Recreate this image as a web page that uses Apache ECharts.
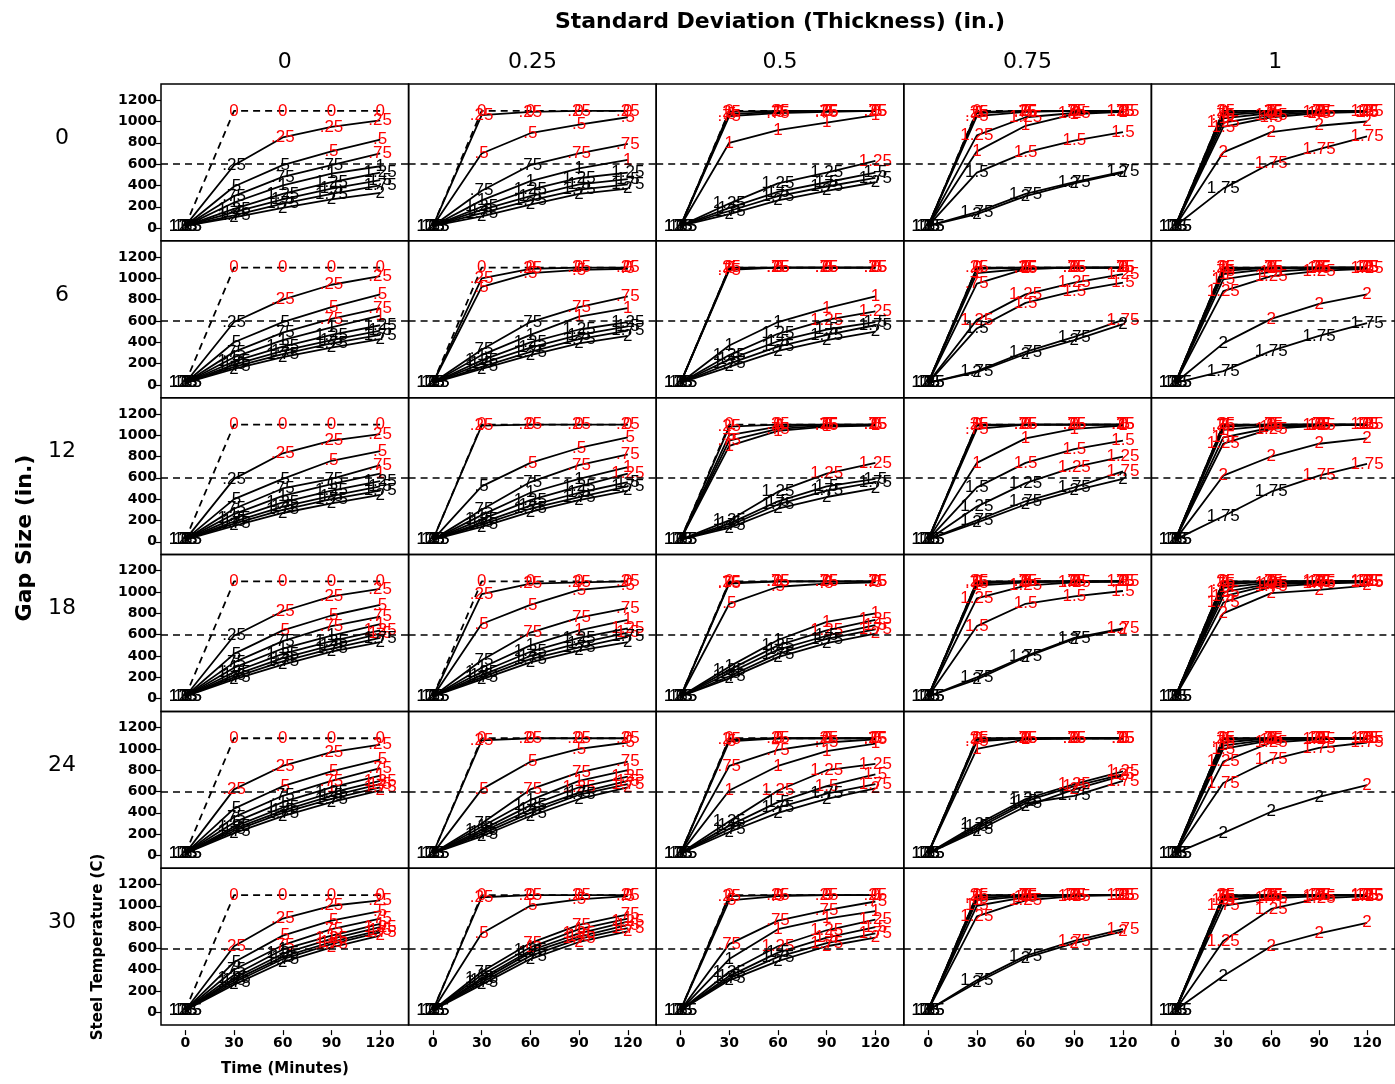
<!DOCTYPE html>
<html><head><meta charset="utf-8">
<script src="https://cdn.jsdelivr.net/npm/echarts@6/dist/echarts.min.js"></script>
<style>html,body{margin:0;padding:0;background:#fff}#c{width:1395px;height:1084px}</style>
</head><body><div id="c"></div>
<script>
// ---------- DATA ----------
const times = [0, 30, 60, 90, 120];
const thicknessLabels = ['0', '.25', '.5', '.75', '1', '1.25', '1.5', '1.75', '2'];
const sdLabels = ['0', '0.25', '0.5', '0.75', '1'];
const gapLabels = ['0', '6', '12', '18', '24', '30'];
const yTicks = [0, 200, 400, 600, 800, 1000, 1200];
const xTicks = [0, 30, 60, 90, 120];
const criticalTemp = 600;

// Each panel: 9 series (thickness 0..2), values at t = 0,30,60,90,120
const gap0_sd0 = [[20,1100,1100,1100,1100],[20,590,850,950,1010],[20,390,590,720,830],[20,300,480,590,700],[20,240,400,510,580],[20,180,320,430,520],[20,150,270,370,450],[20,120,230,320,400],[20,100,190,270,330]];
const gap0_sd25 = [[20,1100,1100,1100,1100],[20,1060,1090,1100,1100],[20,700,890,970,1040],[20,350,590,700,790],[20,260,440,560,640],[20,200,360,470,520],[20,170,300,410,460],[20,140,260,360,410],[20,110,220,320,370]];
const gap0_sd50 = [[20,1100,1100,1100,1100],[20,1090,1100,1100,1100],[20,1070,1090,1100,1100],[20,1050,1080,1090,1100],[20,800,920,990,1060],[20,230,420,520,630],[20,190,340,430,520],[20,160,300,390,470],[20,130,260,350,430]];
const gap0_sd75 = [[20,1100,1100,1100,1100],[20,1090,1100,1100,1100],[20,1080,1100,1100,1100],[20,1050,1090,1100,1100],[20,720,960,1070,1090],[20,870,1040,1080,1100],[20,520,710,820,900],[20,150,320,430,530],[20,130,300,420,520]];
const gap0_sd100 = [[20,1100,1100,1100,1100],[20,1100,1100,1100,1100],[20,1080,1100,1100,1100],[20,1060,1090,1100,1100],[20,1030,1080,1100,1100],[20,990,1060,1090,1100],[20,950,1040,1080,1090],[20,370,610,740,860],[20,710,900,960,1000]];

const gap6_sd0 = [[20,1100,1100,1100,1100],[20,590,800,940,1020],[20,400,590,730,850],[20,310,490,620,720],[20,260,420,540,650],[20,220,360,470,560],[20,190,320,420,510],[20,170,290,390,470],[20,150,260,350,430]];
const gap6_sd25 = [[20,1100,1100,1100,1100],[20,1000,1090,1100,1100],[20,920,1050,1080,1090],[20,330,590,730,830],[20,280,470,640,720],[20,230,400,520,590],[20,200,350,470,550],[20,170,310,430,510],[20,150,280,390,460]];
const gap6_sd50 = [[20,1100,1100,1100,1100],[20,1100,1100,1100,1100],[20,1090,1100,1100,1100],[20,1080,1100,1100,1100],[20,370,590,720,830],[20,280,480,610,690],[20,240,410,520,590],[20,200,360,470,560],[20,170,320,420,500]];
const gap6_sd75 = [[20,1100,1100,1100,1100],[20,1100,1100,1100,1100],[20,1090,1100,1100,1100],[20,950,1090,1100,1100],[20,1050,1090,1100,1100],[20,610,850,960,1040],[20,530,770,880,960],[20,130,310,450,610],[20,120,290,420,570]];
const gap6_sd100 = [[20,1100,1100,1100,1100],[20,1100,1100,1100,1100],[20,1090,1100,1100,1100],[20,1070,1100,1100,1100],[20,1040,1090,1100,1100],[20,880,1020,1070,1090],[20,990,1060,1090,1100],[20,130,320,460,580],[20,390,620,760,850]];

const gap12_sd0 = [[20,1100,1100,1100,1100],[20,590,830,950,1010],[20,400,590,760,850],[20,310,500,590,720],[20,260,430,540,640],[20,220,370,480,570],[20,190,330,430,520],[20,170,300,400,480],[20,150,270,360,440]];
const gap12_sd25 = [[20,1100,1100,1100,1100],[20,1090,1100,1100,1100],[20,520,740,880,980],[20,300,560,720,820],[20,250,460,590,700],[20,210,390,520,640],[20,180,340,460,560],[20,160,310,420,520],[20,140,280,390,480]];
const gap12_sd50 = [[20,1100,1100,1100,1100],[20,1080,1100,1100,1100],[20,1000,1080,1100,1100],[20,950,1060,1090,1100],[20,900,1040,1080,1090],[20,200,470,640,740],[20,170,380,520,590],[20,150,350,480,560],[20,130,310,420,500]];
const gap12_sd75 = [[20,1100,1100,1100,1100],[20,1100,1100,1100,1100],[20,1090,1100,1100,1100],[20,1060,1100,1100,1100],[20,740,970,1060,1090],[20,330,550,700,800],[20,510,740,870,950],[20,200,380,510,660],[20,180,350,480,590]];
const gap12_sd100 = [[20,1100,1100,1100,1100],[20,1100,1100,1100,1100],[20,1090,1100,1100,1100],[20,1080,1100,1100,1100],[20,1050,1090,1100,1100],[20,920,1060,1090,1100],[20,980,1070,1090,1100],[20,240,470,620,730],[20,620,800,920,970]];

const gap18_sd0 = [[20,1100,1100,1100,1100],[20,590,820,960,1030],[20,420,640,780,880],[20,340,540,680,770],[20,290,470,590,700],[20,250,420,540,640],[20,220,380,500,610],[20,200,350,470,570],[20,180,320,440,530]];
const gap18_sd25 = [[20,1100,1100,1100,1100],[20,980,1080,1090,1100],[20,700,880,1020,1060],[20,360,620,760,850],[20,290,500,640,740],[20,250,440,570,660],[20,220,400,520,620],[20,200,370,480,580],[20,180,340,450,530]];
const gap18_sd50 = [[20,1100,1100,1100,1100],[20,1090,1100,1100,1100],[20,890,1050,1080,1090],[20,1080,1100,1100,1100],[20,300,550,720,800],[20,270,500,640,740],[20,240,460,590,690],[20,210,420,560,650],[20,190,390,520,610]];
const gap18_sd75 = [[20,1100,1100,1100,1100],[20,1100,1100,1100,1100],[20,1090,1100,1100,1100],[20,1080,1100,1100,1100],[20,1060,1090,1100,1100],[20,940,1060,1090,1100],[20,680,890,960,1010],[20,200,400,570,660],[20,180,390,560,650]];
const gap18_sd100 = [[20,1100,1100,1100,1100],[20,1100,1100,1100,1100],[20,1090,1100,1100,1100],[20,1070,1100,1100,1100],[20,1040,1090,1100,1100],[20,1000,1080,1100,1100],[20,960,1070,1090,1100],[20,900,1050,1080,1090],[20,800,990,1020,1060]];

const gap24_sd0 = [[20,1100,1100,1100,1100],[20,620,840,970,1040],[20,440,650,790,900],[20,360,560,700,820],[20,310,500,640,750],[20,270,450,590,700],[20,250,420,560,670],[20,230,400,530,640],[20,210,370,500,610]];
const gap24_sd25 = [[20,1100,1100,1100,1100],[20,1080,1100,1100,1100],[20,620,880,1000,1060],[20,300,620,780,880],[20,270,520,700,800],[20,240,470,640,740],[20,220,430,590,700],[20,200,400,570,670],[20,180,370,530,640]];
const gap24_sd50 = [[20,1100,1100,1100,1100],[20,1090,1100,1100,1100],[20,1070,1100,1100,1100],[20,840,990,1060,1090],[20,610,840,980,1050],[20,320,610,800,860],[20,280,500,650,760],[20,250,450,580,670],[20,220,400,530,630]];
const gap24_sd75 = [[20,1100,1100,1100,1100],[20,1100,1100,1100,1100],[20,1090,1100,1100,1100],[20,1070,1100,1100,1100],[20,1000,1090,1100,1100],[20,290,530,670,790],[20,270,510,650,760],[20,250,490,560,700],[20,230,460,620,750]];
const gap24_sd100 = [[20,1100,1100,1100,1100],[20,1100,1100,1100,1100],[20,1090,1100,1100,1100],[20,1060,1100,1100,1100],[20,1030,1090,1100,1100],[20,880,1060,1090,1100],[20,1000,1080,1100,1100],[20,680,900,1010,1060],[20,210,410,550,660]];

const gap30_sd0 = [[20,1100,1100,1100,1100],[20,620,880,1000,1050],[20,470,720,860,950],[20,400,630,780,880],[20,350,590,720,830],[20,320,550,690,800],[20,300,520,660,770],[20,280,500,640,750],[20,260,470,610,720]];
const gap30_sd25 = [[20,1100,1100,1100,1100],[20,1080,1100,1100,1100],[20,740,1000,1060,1090],[20,380,650,820,920],[20,350,610,780,880],[20,320,580,740,850],[20,300,560,710,820],[20,280,530,690,790],[20,260,500,660,760]];
const gap30_sd50 = [[20,1100,1100,1100,1100],[20,1090,1100,1100,1100],[20,1050,1090,1100,1100],[20,640,860,960,1040],[20,500,780,880,950],[20,380,620,770,870],[20,340,560,700,800],[20,320,520,650,740],[20,300,480,620,700]];
const gap30_sd75 = [[20,1100,1100,1100,1100],[20,1100,1100,1100,1100],[20,1090,1100,1100,1100],[20,1070,1100,1100,1100],[20,1050,1090,1100,1100],[20,900,1050,1090,1100],[20,1000,1080,1100,1100],[20,300,530,670,780],[20,280,510,650,760]];
const gap30_sd100 = [[20,1100,1100,1100,1100],[20,1100,1100,1100,1100],[20,1090,1100,1100,1100],[20,1080,1100,1100,1100],[20,1060,1090,1100,1100],[20,670,970,1070,1090],[20,1050,1090,1100,1100],[20,1000,1070,1090,1100],[20,340,620,740,840]];

const panelRows = [
  [gap0_sd0, gap0_sd25, gap0_sd50, gap0_sd75, gap0_sd100],
  [gap6_sd0, gap6_sd25, gap6_sd50, gap6_sd75, gap6_sd100],
  [gap12_sd0, gap12_sd25, gap12_sd50, gap12_sd75, gap12_sd100],
  [gap18_sd0, gap18_sd25, gap18_sd50, gap18_sd75, gap18_sd100],
  [gap24_sd0, gap24_sd25, gap24_sd50, gap24_sd75, gap24_sd100],
  [gap30_sd0, gap30_sd25, gap30_sd50, gap30_sd75, gap30_sd100]
];

// ---------- LAYOUT ----------
const LEFT0 = 161, COLW = 247.6, TOP0 = 84, ROWH = 156.85;
const X_MIN = -15, X_MAX = 137.5, Y_MIN = -120, Y_MAX = 1352;
const TICK_FONT = 'DejaVu Sans';
const HEAD_FONT = 'DejaVu Sans';

const grids = [], xAxes = [], yAxes = [], series = [], graphics = [];
const nRows = panelRows.length, nCols = sdLabels.length;
const plain = v => String(v);

for (let r = 0; r < nRows; r++) {
  for (let c = 0; c < nCols; c++) {
    const k = r * nCols + c;
    grids.push({
      left: LEFT0 + c * COLW, top: TOP0 + r * ROWH, width: COLW, height: ROWH,
      show: true, borderColor: '#000', borderWidth: 1.5, backgroundColor: 'transparent', containLabel: false
    });
    const bottom = r === nRows - 1, first = c === 0;
    xAxes.push({
      gridIndex: k, type: 'value', min: X_MIN, max: X_MAX, offset: 5, position: 'bottom',
      axisLine: { show: false, onZero: false }, splitLine: { show: false },
      axisTick: { show: bottom, customValues: xTicks, length: 5, lineStyle: { color: '#000', width: 1.2 } },
      axisLabel: { show: bottom, customValues: xTicks, formatter: plain, color: '#000', fontFamily: TICK_FONT, fontWeight: 'bold', fontSize: 14, margin: 6 }
    });
    yAxes.push({
      gridIndex: k, type: 'value', min: Y_MIN, max: Y_MAX, position: 'left',
      axisLine: { show: false, onZero: false }, splitLine: { show: false },
      axisTick: { show: first, customValues: yTicks, length: 5, lineStyle: { color: '#000', width: 1.2 } },
      axisLabel: { show: first, customValues: yTicks, formatter: plain, color: '#000', fontFamily: TICK_FONT, fontWeight: 'bold', fontSize: 14, margin: 4 }
    });
    const panel = panelRows[r][c];
    panel.forEach((vals, s) => {
      const ser = {
        type: 'line', xAxisIndex: k, yAxisIndex: k, silent: true, animation: false,
        symbol: 'circle', symbolSize: 1, showSymbol: true,
        itemStyle: { color: 'rgba(0,0,0,0)' },
        lineStyle: { color: '#000', width: 1.8, type: s === 0 ? [7, 5] : 'solid' },
        label: { show: true, position: 'inside', formatter: thicknessLabels[s], fontFamily: 'Liberation Sans', fontSize: 17 },
        emphasis: { disabled: true },
        data: vals.map((v, i) => ({ value: [times[i], v], label: { color: v > criticalTemp ? '#ff0000' : '#000000' } }))
      };
      if (s === 0) {
        ser.markLine = {
          silent: true, symbol: ['none', 'none'], label: { show: false }, animation: false,
          lineStyle: { color: '#000', type: [7, 5], width: 1.5 },
          data: [{ yAxis: criticalTemp }]
        };
      }
      series.push(ser);
    });
  }
}

// headers
graphics.push({ type: 'text', x: 780, y: 22, style: { text: 'Standard Deviation (Thickness) (in.)', fill: '#000', font: 'bold 22px ' + HEAD_FONT, align: 'center', verticalAlign: 'middle' } });
sdLabels.forEach((t, c) => graphics.push({ type: 'text', x: LEFT0 + c * COLW + COLW / 2, y: 62, style: { text: t, fill: '#000', font: '22px ' + HEAD_FONT, align: 'center', verticalAlign: 'middle' } }));
gapLabels.forEach((t, r) => graphics.push({ type: 'text', x: 62, y: TOP0 + r * ROWH + 54, style: { text: t, fill: '#000', font: '22px ' + HEAD_FONT, align: 'center', verticalAlign: 'middle' } }));
graphics.push({ type: 'text', x: 25, y: 538, rotation: Math.PI / 2, style: { text: 'Gap Size (in.)', fill: '#000', font: 'bold 22px ' + HEAD_FONT, align: 'center', verticalAlign: 'middle' } });
graphics.push({ type: 'text', x: 98, y: 947, rotation: Math.PI / 2, style: { text: 'Steel Temperature (C)', fill: '#000', font: 'bold 15px ' + HEAD_FONT, align: 'center', verticalAlign: 'middle' } });
graphics.push({ type: 'text', x: 285, y: 1069, style: { text: 'Time (Minutes)', fill: '#000', font: 'bold 15px ' + HEAD_FONT, align: 'center', verticalAlign: 'middle' } });

const chart = echarts.init(document.getElementById('c'), null, { renderer: 'canvas' });
chart.setOption({
  animation: false, backgroundColor: '#fff',
  grid: grids, xAxis: xAxes, yAxis: yAxes, series: series, graphic: graphics
});
</script></body></html>
